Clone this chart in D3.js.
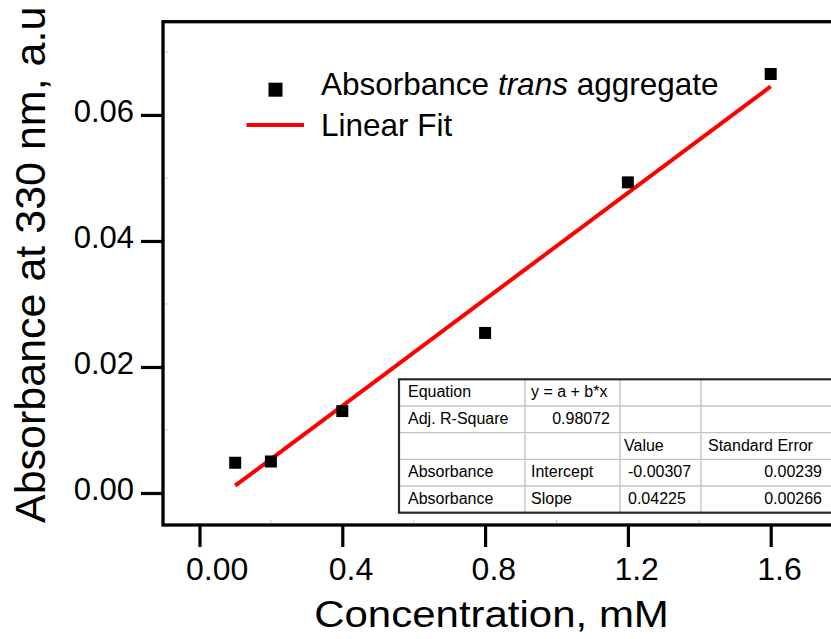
<!DOCTYPE html>
<html>
<head>
<meta charset="utf-8">
<script src="https://cdn.jsdelivr.net/npm/d3@7"></script>
<style>
  html, body { margin: 0; padding: 0; background: #fff; }
  svg { display: block; }
  text { font-family: "Liberation Sans", Arial, Helvetica, sans-serif; fill: #000; }
</style>
</head>
<body>
<svg id="chart" width="831" height="639"></svg>
<script>
// Absorbance of the trans aggregate versus concentration
const concentration = [0.1, 0.2, 0.4, 0.8, 1.2, 1.6];
const absorbance = [0.0048, 0.0050, 0.0130, 0.0254, 0.0493, 0.0665];

// Linear fit parameters (y = a + b*x)
const fitIntercept = -0.00307;
const fitSlope = 0.04225;

// Axis ticks
const xTicks = [0, 0.4, 0.8, 1.2, 1.6];
const xTickLabels = ["0.00", "0.4", "0.8", "1.2", "1.6"];
const yTicks = [0, 0.02, 0.04, 0.06];
const yTickLabels = ["0.00", "0.02", "0.04", "0.06"];
const xMinorTicks = [0.2, 0.6, 1.0, 1.4];
const yMinorTicks = [0.01, 0.03, 0.05, 0.07];

// Fit statistics table
const tableRows = [
  ["Equation", "y = a + b*x", "", ""],
  ["Adj. R-Square", "0.98072", "", ""],
  ["", "", "Value", "Standard Error"],
  ["Absorbance", "Intercept", "-0.00307", "0.00239"],
  ["Absorbance", "Slope", "0.04225", "0.00266"]
];

const svg = d3.select("#chart");

const frame = { left: 163, right: 840, top: 21.7, bottom: 525 };

const x = d3.scaleLinear().domain([-0.1022, 1.7941]).range([frame.left, frame.right]);
const y = d3.scaleLinear().domain([-0.00508, 0.0748]).range([frame.bottom, frame.top]);

// Minor ticks (faint, inside the frame)
svg.append("g").selectAll("line").data(xMinorTicks).join("line")
  .attr("x1", d => x(d)).attr("x2", d => x(d))
  .attr("y1", frame.bottom - 1.5).attr("y2", frame.bottom - 5)
  .attr("stroke", "#c8c8c8").attr("stroke-width", 1);
svg.append("g").selectAll("line").data(yMinorTicks).join("line")
  .attr("y1", d => y(d)).attr("y2", d => y(d))
  .attr("x1", frame.left + 1.5).attr("x2", frame.left + 5)
  .attr("stroke", "#c8c8c8").attr("stroke-width", 1);

// Bottom axis
const xAxis = svg.append("g")
  .attr("transform", `translate(0,${frame.bottom})`)
  .call(d3.axisBottom(x).tickValues(xTicks)
    .tickFormat((d, i) => xTickLabels[i]).tickSize(22).tickPadding(10));
xAxis.select(".domain").remove();
xAxis.selectAll(".tick line").attr("stroke", "#000").attr("stroke-width", 3.2);
xAxis.selectAll(".tick text")
  .attr("text-anchor", "start").attr("x", -14)
  .style("font-family", "'Liberation Sans', Arial, sans-serif")
  .style("font-size", "32px").attr("fill", "#000");

// Left axis
const yAxis = svg.append("g")
  .attr("transform", `translate(${frame.left},0)`)
  .call(d3.axisLeft(y).tickValues(yTicks)
    .tickFormat((d, i) => yTickLabels[i]).tickSize(22).tickPadding(7));
yAxis.select(".domain").remove();
yAxis.selectAll(".tick line").attr("stroke", "#000").attr("stroke-width", 3.2);
yAxis.selectAll(".tick text")
  .attr("dy", "0.22em")
  .style("font-family", "'Liberation Sans', Arial, sans-serif")
  .style("font-size", "31px").attr("fill", "#000");

// Frame (right edge runs past the page)
svg.append("rect")
  .attr("x", frame.left).attr("y", frame.top)
  .attr("width", frame.right - frame.left).attr("height", frame.bottom - frame.top)
  .attr("fill", "none").attr("stroke", "#000").attr("stroke-width", 3.3);

// Linear fit line
const fitX = d3.extent(concentration);
const fitLine = d3.line().x(d => x(d)).y(d => y(fitIntercept + fitSlope * d));
svg.append("path")
  .datum(fitX)
  .attr("d", fitLine)
  .attr("fill", "none").attr("stroke", "#ff0000").attr("stroke-width", 4);

// Data markers
const markerSize = 12;
svg.append("g").selectAll("rect").data(concentration).join("rect")
  .attr("x", d => x(d) - markerSize / 2)
  .attr("y", (d, i) => y(absorbance[i]) - markerSize / 2)
  .attr("width", markerSize).attr("height", markerSize)
  .attr("fill", "#000");

// Legend
const legend = svg.append("g");
legend.append("rect")
  .attr("x", 268.5).attr("y", 82.7).attr("width", 14).attr("height", 14).attr("fill", "#000");
const l1 = legend.append("text").attr("x", 321).attr("y", 95).style("font-size", "31.5px");
l1.append("tspan").text("Absorbance ");
l1.append("tspan").style("font-style", "italic").text("trans");
l1.append("tspan").text(" aggregate");
legend.append("line")
  .attr("x1", 246.5).attr("x2", 304).attr("y1", 125).attr("y2", 125)
  .attr("stroke", "#ff0000").attr("stroke-width", 4);
legend.append("text").attr("x", 321).attr("y", 135.5).style("font-size", "31.5px").text("Linear Fit");

// Axis titles
svg.append("text")
  .attr("transform", "translate(491.5,626.7) scale(1.12,1)")
  .attr("text-anchor", "middle")
  .style("font-size", "37.5px")
  .text("Concentration, mM");
svg.append("text")
  .attr("transform", "translate(45,523) rotate(-90)")
  .attr("text-anchor", "start")
  .style("font-size", "43px")
  .text("Absorbance at 330 nm, a.u");

// Fit statistics table
const colEdges = [399, 525, 620, 701, 840];
const rowScale = d3.scaleBand().domain(d3.range(tableRows.length)).range([379.3, 512.7]);
const table = svg.append("g");
table.append("rect")
  .attr("x", colEdges[0]).attr("y", rowScale.range()[0])
  .attr("width", colEdges[4] - colEdges[0])
  .attr("height", rowScale.range()[1] - rowScale.range()[0])
  .attr("fill", "#fff");
// inner grid
table.selectAll("line.h").data(d3.range(1, tableRows.length)).join("line")
  .attr("class", "h")
  .attr("x1", colEdges[0]).attr("x2", colEdges[4])
  .attr("y1", d => rowScale(d)).attr("y2", d => rowScale(d))
  .attr("stroke", "#c4c4c4").attr("stroke-width", 1.4);
table.selectAll("line.v").data(colEdges.slice(1, 4)).join("line")
  .attr("class", "v")
  .attr("x1", d => d).attr("x2", d => d)
  .attr("y1", rowScale.range()[0]).attr("y2", rowScale.range()[1])
  .attr("stroke", "#c4c4c4").attr("stroke-width", 1.4);
// outer border
table.append("rect")
  .attr("x", colEdges[0]).attr("y", rowScale.range()[0])
  .attr("width", colEdges[4] - colEdges[0])
  .attr("height", rowScale.range()[1] - rowScale.range()[0])
  .attr("fill", "none").attr("stroke", "#2a2a2a").attr("stroke-width", 2.2);

// cell text placement per column: [anchor, offset from column edge]
const cellAlign = (r, c) => {
  if (c === 0) return ["start", colEdges[0] + 9];
  if (c === 1) return r === 1 ? ["end", colEdges[2] - 10] : ["start", colEdges[1] + 6];
  if (c === 2) return r === 2 ? ["start", colEdges[2] + 4] : ["start", colEdges[2] + 8];
  return r === 2 ? ["start", colEdges[3] + 7] : ["end", colEdges[3] + 121];
};
tableRows.forEach((row, r) => {
  row.forEach((cell, c) => {
    if (!cell) return;
    const [anchor, xPos] = cellAlign(r, c);
    table.append("text")
      .attr("x", xPos)
      .attr("y", rowScale(r) + 18)
      .attr("text-anchor", anchor)
      .style("font-size", "16px")
      .text(cell);
  });
});
</script>
</body>
</html>
